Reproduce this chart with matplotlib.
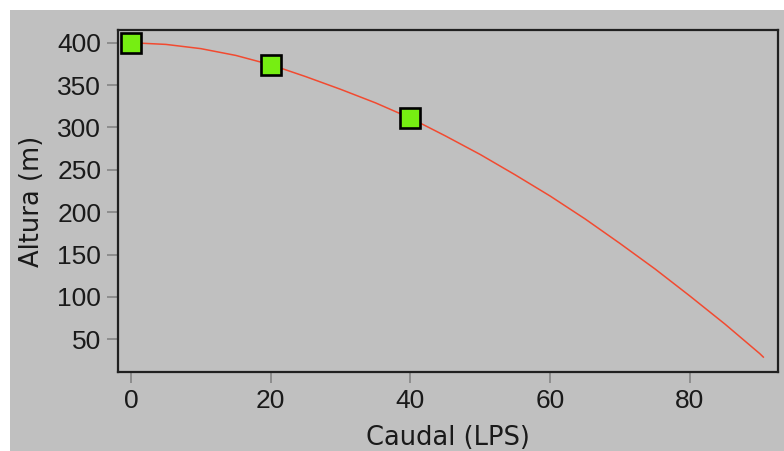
import matplotlib.pyplot as plt
from matplotlib.patches import Rectangle

# curva de la bomba
caudal_curva = [0, 5, 10, 15, 20, 25, 30, 35, 40, 45, 50, 55, 60, 65, 70, 75, 80, 85, 90, 90.5]
altura_curva = [400, 398, 393, 385, 374, 360, 345, 329, 311, 290, 268, 244, 219, 192, 163, 133, 101, 68, 33, 29]

# puntos de la bomba
caudal_pts = [0, 20, 40]
altura_pts = [400, 374, 311]

x_ticks = [0, 20, 40, 60, 80]
y_ticks = [50, 100, 150, 200, 250, 300, 350, 400]

GRIS = '#C0C0C0'

fig = plt.figure(figsize=(7.84, 4.51), dpi=100, facecolor='white')
# fondo gris que deja un borde blanco arriba y a la izquierda
fig.patches.append(Rectangle((10 / 784, 0), 1, 1 - 10 / 451, transform=fig.transFigure,
                             facecolor=GRIS, edgecolor='none', zorder=-10))

ax = fig.add_axes([118 / 784, 1 - 372 / 451, 660 / 784, 342 / 451])
ax.set_facecolor(GRIS)

ax.plot(caudal_curva, altura_curva, color='#F24A30', lw=1.1, zorder=2)
ax.plot(caudal_pts, altura_pts, 's', ms=14.8, mfc='#76EE12', mec='black', mew=1.9,
        zorder=3, clip_on=False)

ax.set_xlim(-1.86, 92.6)
ax.set_ylim(11.4, 415)
ax.set_xticks(x_ticks)
ax.set_yticks(y_ticks)

for s in ax.spines.values():
    s.set_color('#202020')
    s.set_linewidth(1.6)

ax.tick_params(length=8, width=1.1, color='#808080', pad=4)
for lab in ax.get_xticklabels() + ax.get_yticklabels():
    lab.set_family('Liberation Sans')
    lab.set_fontsize(19)
    lab.set_color('#1a1a1a')

ax.set_xlabel('Caudal (LPS)', fontsize=18.5, family='DejaVu Sans', color='#1a1a1a', labelpad=9)
ax.set_ylabel('Altura (m)', fontsize=18.5, family='DejaVu Sans', color='#1a1a1a', labelpad=9)

fig.savefig('out.png', dpi=100, facecolor=fig.get_facecolor())
